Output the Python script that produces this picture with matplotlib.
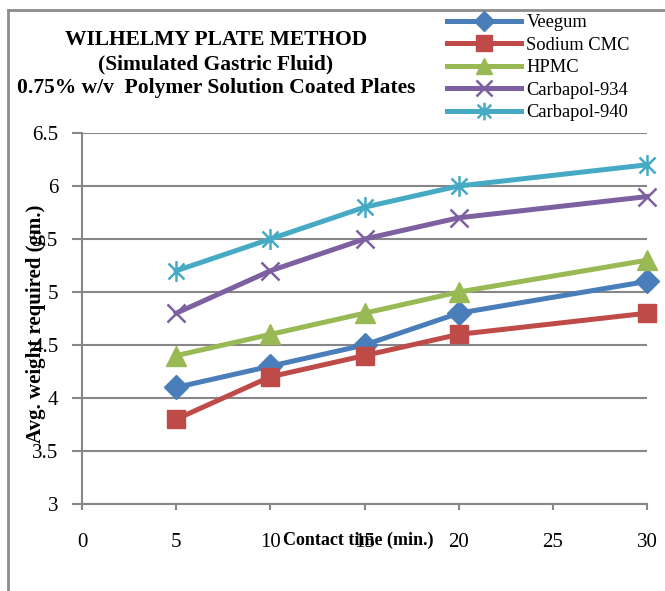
import matplotlib
matplotlib.use("Agg")
import matplotlib.pyplot as plt
from matplotlib.path import Path
from matplotlib.lines import Line2D

# Data
contact_time = [5, 10, 15, 20, 30]
veegum = [4.1, 4.3, 4.5, 4.8, 5.1]
sodium_cmc = [3.8, 4.2, 4.4, 4.6, 4.8]
hpmc = [4.4, 4.6, 4.8, 5.0, 5.3]
carbapol_934 = [4.8, 5.2, 5.5, 5.7, 5.9]
carbapol_940 = [5.2, 5.5, 5.8, 6.0, 6.2]
series_names = ["Veegum", "Sodium CMC", "HPMC", "Carbapol-934", "Carbapol-940"]
x_ticks = [0, 5, 10, 15, 20, 25, 30]
y_ticks = [3, 3.5, 4, 4.5, 5, 5.5, 6, 6.5]
y_tick_labels = ["3", "3.5", "4", "4.5", "5", "5.5", "6", "6.5"]

plt.rcParams['font.family'] = ['Liberation Serif', 'DejaVu Serif']

asterisk = Path([(-1, -1), (1, 1), (-1, 1), (1, -1), (0, -1.3), (0, 1.3)],
                [Path.MOVETO, Path.LINETO, Path.MOVETO, Path.LINETO, Path.MOVETO, Path.LINETO])

styles = [
    dict(color="#4A7EBB", marker="D", ms=12, mec="#4A7EBB"),
    dict(color="#BE4B48", marker="s", ms=13, mec="#BE4B48"),
    dict(color="#98B954", marker="^", ms=14, mec="#98B954"),
    dict(color="#7D60A0", marker="x", ms=13, mew=1.8),
    dict(color="#46AAC5", marker=asterisk, ms=15, mew=1.8),
]

fig = plt.figure(figsize=(6.65, 5.91), dpi=100)
ax = fig.add_axes([82/665, 1 - 504/591, (647-82)/665, (504-133)/591])

data = [veegum, sodium_cmc, hpmc, carbapol_934, carbapol_940]
lines = []
for vals, name, st in zip(data, series_names, styles):
    ln, = ax.plot(contact_time, vals, lw=3.6, label=name, clip_on=False, **st)
    lines.append(ln)

ax.set_xlim(0, 30)
ax.set_ylim(3, 6.5)
ax.set_xticks(x_ticks)
ax.set_yticks(y_ticks)
ax.set_yticklabels(y_tick_labels)
ax.yaxis.grid(True, color="#878787", lw=1.5)
ax.set_axisbelow(True)
for s in ["top", "right"]:
    ax.spines[s].set_visible(False)
for s in ["left", "bottom"]:
    ax.spines[s].set_color("#878787")
    ax.spines[s].set_linewidth(1.5)
ax.tick_params(axis="both", colors="#878787", width=1.5, labelsize=15,
               labelcolor="black")
ax.tick_params(axis="x", length=4, pad=17)
ax.tick_params(axis="y", length=7, pad=10)

fig.text(358/665, 1 - 540/591, "Contact time (min.)", ha="center", va="center",
         fontsize=13, fontweight="bold")
fig.text(36/665, 1 - 324/591, "Avg. weight required (gm.)", ha="center", va="center",
         fontsize=15, fontweight="bold", rotation=90)

fig.text(216/665, 1 - 40/591, "WILHELMY PLATE METHOD", ha="center", va="center",
         fontsize=15.5, fontweight="bold")
fig.text(216/665, 1 - 64/591, "(Simulated Gastric Fluid)", ha="center", va="center",
         fontsize=15.5, fontweight="bold")
fig.text(216/665, 1 - 88/591, "0.75% w/v  Polymer Solution Coated Plates", ha="center",
         va="center", fontsize=15.5, fontweight="bold")

leg_handles = [Line2D([], [], color=ln.get_color(), lw=3.6, marker=ln.get_marker(),
                      ms=ln.get_markersize() * 0.85, mew=ln.get_markeredgewidth())
               for ln in lines]
leg = fig.legend(leg_handles, series_names, loc="upper left",
                 bbox_to_anchor=(447/665, 1 - 14/591), frameon=False,
                 fontsize=13.3, handlelength=4.0, handletextpad=0.3, labelspacing=0.3,
                 borderaxespad=0, borderpad=0)

# chart border (top and left visible)
fig.add_artist(Line2D([8/665, 8/665], [0, 1 - 10/591], transform=fig.transFigure,
                      color="#8c8c8c", lw=2))
fig.add_artist(Line2D([8/665, 1], [1 - 10/591, 1 - 10/591], transform=fig.transFigure,
                      color="#8c8c8c", lw=2))

fig.savefig("out.png", dpi=100)
